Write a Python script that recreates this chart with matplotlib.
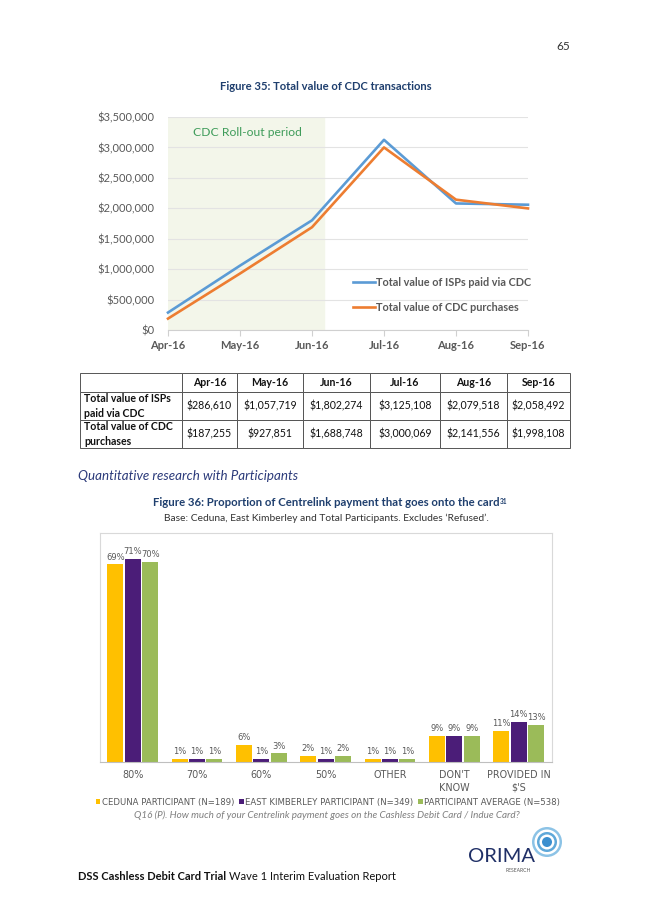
import numpy as np
import matplotlib.pyplot as plt
from matplotlib.patches import Circle

plt.rcParams['font.family'] = ['Lato', 'DejaVu Sans']

# Figure 35 data
months = ["Apr-16", "May-16", "Jun-16", "Jul-16", "Aug-16", "Sep-16"]
isp_paid = [286610, 1057719, 1802274, 3125108, 2079518, 2058492]
cdc_purchases = [187255, 927851, 1688748, 3000069, 2141556, 1998108]
line_labels = ["Total value of ISPs paid via CDC", "Total value of CDC purchases"]
row_labels = ["Total value of ISPs\npaid via CDC", "Total value of CDC\npurchases"]
ROLLOUT_END = 2.16  # shaded roll-out period ends a little after Jun-16

# Figure 36 data
bar_cats = ["80%", "70%", "60%", "50%", "OTHER", "DON'T\nKNOW", "PROVIDED IN\n$'S"]
ceduna = [69, 1, 6, 2, 1, 9, 11]
east_kimberley = [71, 1, 1, 1, 1, 9, 14]
average = [70, 1, 3, 2, 1, 9, 13]
bar_series = ["CEDUNA PARTICIPANT (N=189)", "EAST KIMBERLEY PARTICIPANT (N=349)",
              "PARTICIPANT AVERAGE (N=538)"]

W, H = 653, 923
NAVY = "#1f3f6e"
GREY = "#595959"


def box(l, t, r, b):
    # pixel box -> figure fraction [left, bottom, width, height]
    return [l / W, 1 - b / H, (r - l) / W, (b - t) / H]


fig = plt.figure(figsize=(W / 100, H / 100), dpi=100)
fig.patch.set_facecolor("white")

fig.text(563 / W, 1 - 46 / H, "65", fontsize=8.5, color="#333333", ha="center", va="center")

# ---------------- Figure 35: line chart ----------------
fig.text(326 / W, 1 - 86 / H, "Figure 35: Total value of CDC transactions", fontsize=8.1,
         fontweight="bold", color=NAVY, ha="center", va="center")

ax = fig.add_axes(box(168, 117, 528, 330))
x = np.arange(len(months))
ax.axvspan(0, ROLLOUT_END, color="#f3f6ea", zorder=0)
ax.plot(x, isp_paid, color="#5b9bd5", lw=1.9, label=line_labels[0], clip_on=False, zorder=3)
ax.plot(x, cdc_purchases, color="#ed7d31", lw=1.9, label=line_labels[1], clip_on=False, zorder=3)
ax.set_xlim(0, len(months) - 1)
ax.set_ylim(0, 3500000)
ax.set_yticks(np.arange(0, 3500001, 500000))
ax.set_yticklabels(["${:,.0f}".format(v) for v in np.arange(0, 3500001, 500000)])
ax.set_xticks(x)
ax.set_xticklabels(months, fontweight="bold")
ax.grid(axis="y", color="#e3e3e3", lw=0.8)
ax.set_axisbelow(True)
for s in ["left", "right", "top"]:
    ax.spines[s].set_visible(False)
ax.spines["bottom"].set_color("#d0d0d0")
ax.tick_params(axis="y", length=0, labelsize=8, labelcolor=GREY, pad=10)
ax.tick_params(axis="x", length=4, color="#d0d0d0", labelsize=8, labelcolor=GREY, pad=3)
ax.text(0.35, 3250000, "CDC Roll-out period", fontsize=8.7, color="#3f9c5a", va="center")
ax.legend(loc="center left", bbox_to_anchor=(353 / W, 1 - 295 / H), bbox_transform=fig.transFigure,
          frameon=False, prop={"weight": "bold", "size": 7.8}, handlelength=2.0,
          handletextpad=0.15, labelspacing=1.25, borderpad=0, borderaxespad=0, labelcolor=GREY)

# ---------------- Table ----------------
tax = fig.add_axes(box(80, 373, 570, 448))
tax.axis("off")
cells = [[""] + months,
         [row_labels[0]] + ["${:,}".format(v) for v in isp_paid],
         [row_labels[1]] + ["${:,}".format(v) for v in cdc_purchases]]
col_w = np.array([102, 55, 66, 67, 70, 67, 63], dtype=float)
col_w = col_w / col_w.sum()
tbl = tax.table(cellText=cells, colWidths=col_w, bbox=[0, 0, 1, 1], cellLoc="center")
tbl.auto_set_font_size(False)
tbl.set_fontsize(7.6)
row_h = [19, 28, 28]
for (r, c), cell in tbl.get_celld().items():
    cell.set_edgecolor("#555555")
    cell.set_linewidth(0.7)
    cell.set_height(row_h[r] / 75)
    cell.get_text().set_color("#111111")
    cell.get_text().set_linespacing(1.35)
    if r == 0 or c == 0:
        cell.get_text().set_fontweight("bold")
    if c == 0:
        cell.get_text().set_ha("left")
        cell.PAD = 0.04
        cell._loc = "left"

# ---------------- Section heading ----------------
fig.text(78 / W, 1 - 476 / H, "Quantitative research with Participants", fontsize=9.6,
         style="italic", color="#2b3a7a", ha="left", va="center")

t36 = fig.text(326 / W, 1 - 503 / H, "Figure 36: Proportion of Centrelink payment that goes onto the card",
               fontsize=8.2, fontweight="bold", color=NAVY, ha="center", va="center")
fig.text(326 / W, 1 - 518 / H, "Base: Ceduna, East Kimberley and Total Participants. Excludes \u2018Refused\u2019.",
         fontsize=7.4, color="#333333", ha="center", va="center")

# ---------------- Figure 36: bar chart ----------------
bx = fig.add_axes(box(100, 533, 552, 762))
g = np.arange(len(bar_cats))
bw = 0.25
off = 0.27
colors = ["#ffc000", "#4b1d78", "#9bbb59"]
for i, (vals, col, lab) in enumerate(zip([ceduna, east_kimberley, average], colors, bar_series)):
    bars = bx.bar(g + (i - 1) * off, vals, width=bw, color=col, label=lab, zorder=2)
    bx.bar_label(bars, labels=["{}%".format(v) for v in vals], padding=2, fontsize=6,
                 color=GREY, family="DejaVu Sans")
bx.set_xlim(-0.51, 6.52)
bx.set_ylim(0, 80)
bx.set_yticks([])
bx.set_xticks(g)
bx.set_xticklabels(bar_cats, family="DejaVu Sans", fontsize=6.9, color=GREY, linespacing=1.3)
bx.tick_params(axis="x", length=0, pad=6)
for s in ["left", "right", "top"]:
    bx.spines[s].set_color("#d9d9d9")
bx.spines["bottom"].set_color("#bfbfbf")

fig.legend(*bx.get_legend_handles_labels(), loc="center", bbox_to_anchor=(328 / W, 1 - 802 / H),
           ncol=3, frameon=False, prop={"family": "DejaVu Sans", "size": 6.1}, labelcolor=GREY,
           handlelength=0.55, handleheight=0.55, handletextpad=0.15, columnspacing=0.6,
           borderpad=0, borderaxespad=0)
fig.text(327 / W, 1 - 815 / H,
         "Q16 (P). How much of your Centrelink payment goes on the Cashless Debit Card / Indue Card?",
         fontsize=7.1, style="italic", color="#7f7f7f", ha="center", va="center")

# ---------------- Footer ----------------
r = fig.canvas.get_renderer()
ft = fig.text(78 / W, 1 - 877 / H, "DSS Cashless Debit Card Trial", fontsize=8, fontweight="bold",
              color="#111111", ha="left", va="center")
ext = ft.get_window_extent(r)
fig.text((ext.x1 + 3) / W, 1 - 877 / H, "Wave 1 Interim Evaluation Report", fontsize=8,
         color="#111111", ha="left", va="center")

e36 = t36.get_window_extent(r)
fig.text((e36.x1 + 1) / W, (e36.y1 - 1) / H, "31", fontsize=4.8, fontweight="bold", color=NAVY,
         ha="left", va="top")

lg = fig.add_axes(box(455, 825, 565, 880))
lg.set_xlim(455, 565)
lg.set_ylim(880, 825)
lg.axis("off")
for rad, col in zip([15, 12.5, 10, 7.5, 5], ["#8cc3e6", "#ffffff", "#5fa8d9", "#ffffff", "#3b8fcf"]):
    lg.add_patch(Circle((547, 842), rad, color=col, lw=0))
lg.text(501, 857, "ORIMA", fontsize=14.5, color="#1f2f66", ha="center", va="center")
lg.text(518, 871, "RESEARCH", fontsize=3.6, color="#555555", ha="center", va="center")

fig.savefig("out.png", dpi=100)
